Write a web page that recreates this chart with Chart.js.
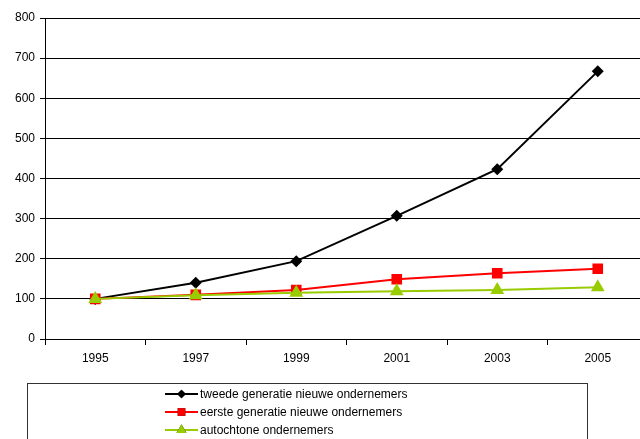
<!DOCTYPE html>
<html>
<head>
<meta charset="utf-8">
<script src="https://cdn.jsdelivr.net/npm/chart.js@4/dist/chart.umd.min.js"></script>
<style>
  html, body { margin: 0; padding: 0; background: #fff; overflow: hidden; }
  #wrap { position: relative; width: 660px; height: 439px; }
</style>
</head>
<body>
<div id="wrap"><canvas id="chart" width="660" height="439"></canvas></div>
<script>
// data
const years = ['1995', '1997', '1999', '2001', '2003', '2005'];
const tweede = [100, 140, 194, 307, 423, 667];
const eerste = [100, 110, 122, 149, 164, 175];
const autochtoon = [100, 109, 115, 119, 122, 129];
const seriesLabels = [
    'tweede generatie nieuwe ondernemers',
    'eerste generatie nieuwe ondernemers',
    'autochtone ondernemers'
];
const yTicks = [0, 100, 200, 300, 400, 500, 600, 700, 800];

const FONT = 'Liberation Sans, Arial, sans-serif';

// black drawn first, green last (on top)
const styles = [
    { color: '#000000', pointStyle: 'rectRot', radius: 6, order: 3 },
    { color: '#ff0000', pointStyle: 'rect', radius: 7.5, order: 2 },
    { color: '#99cc00', pointStyle: 'triangle', radius: 8, order: 1 }
];

// legend box at the bottom, drawn on the canvas
const boxLegend = {
    id: 'boxLegend',
    afterDraw(chart) {
        const ctx = chart.ctx;
        ctx.save();
        ctx.strokeStyle = '#333';
        ctx.lineWidth = 1;
        ctx.strokeRect(27.5, 383.5, 560, 70);
        ctx.font = '12px ' + FONT;
        ctx.textBaseline = 'middle';
        chart.data.datasets.forEach((ds, i) => {
            const y = 394 + i * 18;
            ctx.strokeStyle = ds.borderColor;
            ctx.lineWidth = 2;
            ctx.beginPath();
            ctx.moveTo(165, y);
            ctx.lineTo(198, y);
            ctx.stroke();
            Chart.helpers.drawPoint(ctx, {
                pointStyle: ds.pointStyle,
                radius: ds.pointRadius * 0.72,
                rotation: 0,
                borderWidth: 0
            }, 181.5, y);
            ctx.fillStyle = ds.borderColor;
            ctx.fill();
            ctx.fillStyle = '#000';
            ctx.fillText(ds.label, 200, y + 1);
        });
        ctx.restore();
    }
};

const seriesData = [tweede, eerste, autochtoon];

new Chart(document.getElementById('chart'), {
    type: 'line',
    data: {
        labels: years,
        datasets: seriesData.map((vals, i) => ({
            label: seriesLabels[i],
            data: vals,
            order: styles[i].order,
            borderColor: styles[i].color,
            backgroundColor: styles[i].color,
            borderWidth: 2,
            pointStyle: styles[i].pointStyle,
            pointRadius: styles[i].radius,
            pointBorderWidth: 0,
            tension: 0
        }))
    },
    options: {
        responsive: false,
        animation: false,
        layout: { padding: { top: 18, right: 12, bottom: 64, left: 0 } },
        plugins: {
            legend: { display: false },
            tooltip: { enabled: false }
        },
        scales: {
            x: {
                offset: true,
                afterFit(scale) { scale.height = 36; },
                grid: {
                    offset: true,
                    drawOnChartArea: false,
                    drawTicks: true,
                    tickLength: 6,
                    color: '#000'
                },
                border: { color: '#000', width: 1 },
                ticks: {
                    color: '#000',
                    font: { family: FONT, size: 12 },
                    padding: 6,
                    maxRotation: 0
                }
            },
            y: {
                min: 0,
                max: 800,
                afterFit(scale) { scale.width = 45; },
                afterBuildTicks(scale) { scale.ticks = yTicks.map(v => ({ value: v })); },
                grid: {
                    color: '#000',
                    lineWidth: 1,
                    drawTicks: true,
                    tickLength: 5
                },
                border: { color: '#000', width: 1 },
                ticks: {
                    color: '#000',
                    font: { family: FONT, size: 12 },
                    padding: 5
                }
            }
        }
    },
    plugins: [boxLegend]
});
</script>
</body>
</html>
